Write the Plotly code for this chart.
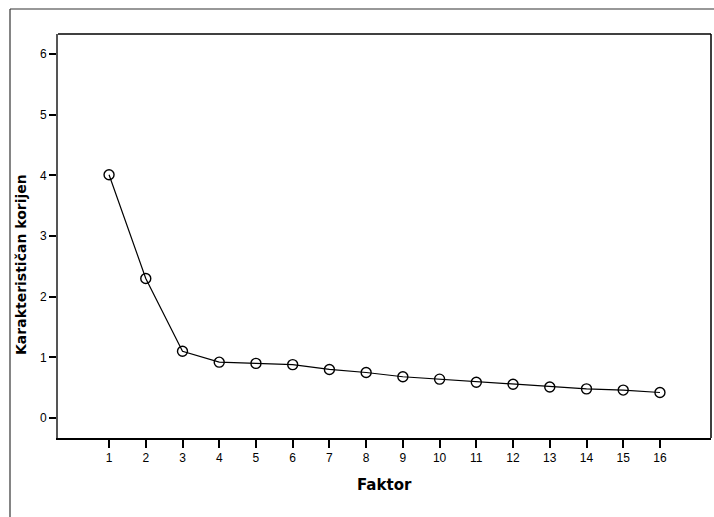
import plotly.graph_objects as go

factors = list(range(1, 17))
eigenvalues = [4.01, 2.30, 1.10, 0.92, 0.90, 0.88, 0.80, 0.75, 0.68, 0.64, 0.59, 0.555, 0.51, 0.48, 0.46, 0.42]
x_title = "Faktor"
y_title = "Karakterističan korijen"
y_ticks = [0, 1, 2, 3, 4, 5, 6]

fig = go.Figure()
fig.add_trace(go.Scatter(
    x=factors, y=eigenvalues, mode="lines+markers",
    line=dict(color="black", width=1.2),
    marker=dict(symbol="circle-open", size=10, color="black", line=dict(width=1.4)),
    showlegend=False, cliponaxis=False,
))

W, H = 714, 517
L, R, T, B = 58, 3, 34, 79
pw, ph = W - L - R, H - T - B
title_font = dict(family="DejaVu Sans, Verdana, sans-serif", size=14, color="black")

fig.update_layout(
    width=W, height=H,
    margin=dict(l=L, r=R, t=T, b=B),
    paper_bgcolor="white", plot_bgcolor="white",
    font=dict(family="Liberation Sans, Arial, sans-serif", color="black", size=12),
    xaxis=dict(range=[-0.39, 17.39], tickvals=factors, ticktext=[str(f) for f in factors],
               showgrid=False, zeroline=False, showline=True, linecolor="black", linewidth=2,
               ticks="outside", ticklen=8, tickwidth=2, tickcolor="black",
               tickfont=dict(size=12)),
    yaxis=dict(range=[-0.33, 6.33], tickvals=y_ticks,
               showgrid=False, zeroline=False, showline=True, linecolor="#555555", linewidth=2,
               ticks="outside", ticklen=7, tickwidth=2, tickcolor="black",
               tickfont=dict(size=12)),
    shapes=[
        dict(type="line", xref="paper", yref="paper", x0=0, x1=1, y0=1, y1=1,
             line=dict(color="black", width=1.5)),
        dict(type="line", xref="paper", yref="paper", x0=1, x1=1, y0=0, y1=1,
             line=dict(color="black", width=1.5)),
        dict(type="line", xref="paper", yref="paper", x0=(10 - L) / pw, x1=(10 - L) / pw,
             y0=1 + (T - 9) / ph, y1=-(B + 5) / ph, line=dict(color="#333333", width=1.2)),
        dict(type="line", xref="paper", yref="paper", x0=(10 - L) / pw, x1=1 + (R + 5) / pw,
             y0=1 + (T - 9) / ph, y1=1 + (T - 9) / ph, line=dict(color="#333333", width=1.2)),
    ],
    annotations=[
        dict(text="<b>" + x_title + "</b>", xref="paper", yref="paper",
             x=(385 - L) / pw, y=-(485 - T - ph) / ph, showarrow=False,
             font=dict(family="DejaVu Sans, Verdana, sans-serif", size=15, color="black"),
             xanchor="center", yanchor="middle"),
        dict(text="<b>" + y_title + "</b>", xref="paper", yref="paper",
             x=(21 - L) / pw, y=(T + ph - 265) / ph, showarrow=False, textangle=-90,
             font=title_font, xanchor="center", yanchor="middle"),
    ],
)

fig.write_html("out.html", config={"displayModeBar": False},
               post_script="document.body.style.margin='0';document.body.style.overflow='hidden';")
